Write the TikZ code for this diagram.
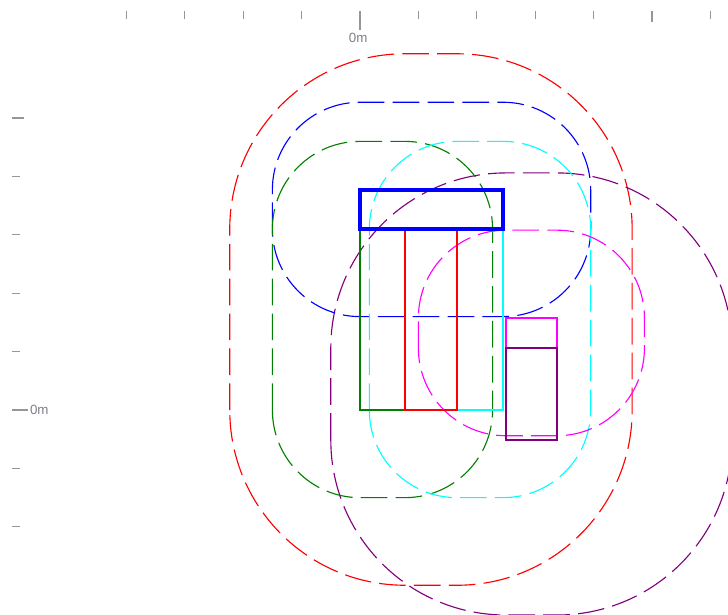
\documentclass[tikz,border=0pt]{standalone}
\usepackage{fontspec}
\setmainfont{Liberation Sans}
\definecolor{cred}{RGB}{255,0,0}
\definecolor{cblue}{RGB}{0,0,255}
\definecolor{cgreen}{RGB}{0,128,0}
\definecolor{ccyan}{RGB}{0,255,255}
\definecolor{cmagenta}{RGB}{255,0,255}
\definecolor{cpurple}{RGB}{128,0,128}
\definecolor{ctick}{RGB}{150,150,150}
\definecolor{clabel}{RGB}{125,125,140}
\tikzset{
  every picture/.style={line width=0.6pt},
  part/.style={draw=#1, line width=0.8pt},
  zone/.style={draw=#1, line width=0.55pt, dash pattern=on 13pt off 4pt},
  tickmark/.style={draw=ctick, line width=0.6pt},
  rulerlabel/.style={text=clabel, font=\fontsize{6.5}{7}\selectfont, inner sep=0pt},
}
\begin{document}
\begin{tikzpicture}
  \clip (-6.164,-3.493) rectangle (6.301,7.021);
  % rulers
  \foreach \x in {-4,...,6}
    \draw[tickmark] (\x,6.83) -- (\x,6.69);
  \draw[tickmark] (0,6.83) -- (0,6.50);
  \draw[tickmark] (5,6.83) -- (5,6.64);
  \node[rulerlabel] (xzero) at (-0.03,6.37) {0m};
  \foreach \y in {-2,...,5}
    \draw[tickmark] (-5.96,\y) -- (-5.82,\y);
  \draw[tickmark] (-5.96,0) -- (-5.69,0);
  \draw[tickmark] (-5.96,5) -- (-5.76,5);
  \node[rulerlabel, anchor=west] (yzero) at (-5.66,0) {0m};
  % clearance zones
  \foreach \xa/\ya/\xb/\yb/\r/\c in {0.77/0/1.66/3.10/3/cred, 2.50/-0.51/3.37/1.06/3/cpurple, 0/3.10/2.45/3.77/1.5/cblue, 0/0/0.77/3.10/1.5/cgreen, 1.66/0/2.45/3.10/1.5/ccyan, 2.50/1.06/3.37/1.58/1.5/cmagenta}
    \draw[zone=\c, rounded corners=\r cm] (\xa-\r,\ya-\r) rectangle (\xb+\r,\yb+\r);
  % parts
  \foreach \xa/\ya/\xb/\yb/\c in {0/0/0.77/3.10/cgreen, 1.66/0/2.45/3.10/ccyan, 0.77/0/1.66/3.10/cred, 2.50/1.06/3.37/1.58/cmagenta, 2.50/-0.51/3.37/1.06/cpurple}
    \draw[part=\c] (\xa,\ya) rectangle (\xb,\yb);
  \draw[part=cblue, line width=1.7pt] (0,3.10) rectangle (2.45,3.77);
\end{tikzpicture}
\end{document}
